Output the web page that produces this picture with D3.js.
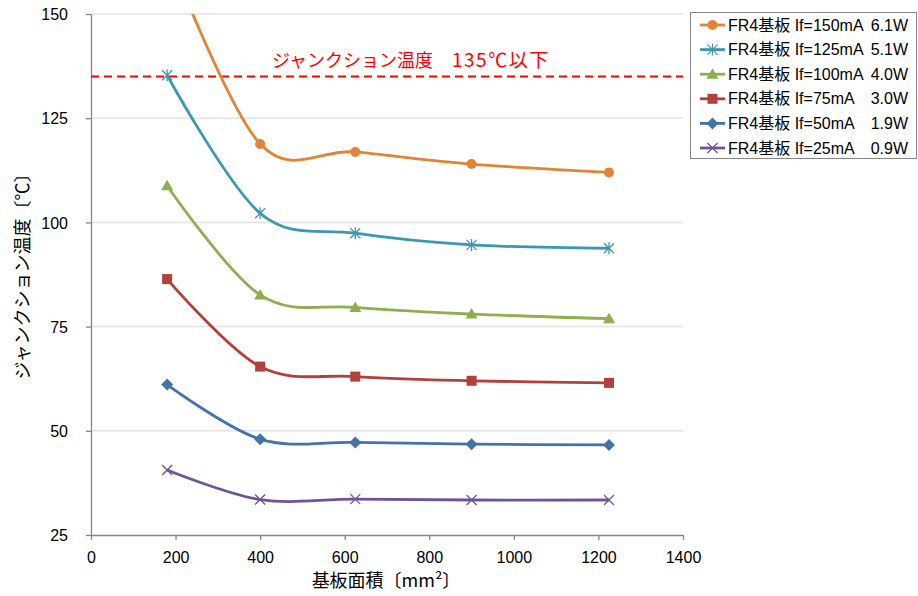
<!DOCTYPE html>
<html><head><meta charset="utf-8">
<script src="https://cdn.jsdelivr.net/npm/d3@7"></script>
<style>
body{margin:0;background:#fff;}
text{font-family:"Liberation Sans","Noto Sans CJK JP",sans-serif;white-space:pre;}
.cjk{font-family:"Noto Sans CJK JP",sans-serif;}
</style></head>
<body><svg id="c" width="918" height="596"></svg>
<script>
const areas = [180, 400, 625, 900, 1225];
const seriesNames = ["FR4基板 If=150mA","FR4基板 If=125mA","FR4基板 If=100mA","FR4基板 If=75mA","FR4基板 If=50mA","FR4基板 If=25mA"];
const seriesPower = ["6.1W","5.1W","4.0W","3.0W","1.9W","0.9W"];
const temp150 = [165.0, 118.8, 116.9, 114.0, 112.0];
const temp125 = [135.3, 102.2, 97.4, 94.6, 93.8];
const temp100 = [108.8, 82.6, 79.6, 78.0, 76.9];
const temp75  = [86.4, 65.4, 63.0, 62.0, 61.5];
const temp50  = [61.1, 48.0, 47.2, 46.8, 46.6];
const temp25  = [40.6, 33.5, 33.6, 33.4, 33.4];
const yTicks = [25, 50, 75, 100, 125, 150];
const xTicks = [0, 200, 400, 600, 800, 1000, 1200, 1400];
const limitValue = 135;
const limitLabelA = "ジャンクション温度";
const limitLabelB = "135℃以下";
const xTitle = "基板面積〔mm²〕";
const yTitle = "ジャンクション温度〔℃〕";

const colors = ["#E08536","#3C98B0","#8FAE4E","#B3403D","#4473AC","#6E5497"];
const markers = ["circle","asterisk","triangle","square","diamond","cross"];
const allSeries = [temp150,temp125,temp100,temp75,temp50,temp25];

const svg = d3.select("#c");
const x = d3.scaleLinear().domain([0,1400]).range([91,683]);
const y = d3.scaleLinear().domain([25,150]).range([535,14]);

// gridlines
svg.append("g").selectAll("line").data(yTicks.filter(d=>d>25)).join("line")
  .attr("x1",x(0)).attr("x2",x(1400)).attr("y1",d=>y(d)).attr("y2",d=>y(d))
  .attr("stroke","#e3e3e3").attr("stroke-width",1.5);

// axes
const xAxis = svg.append("g").attr("transform",`translate(0,${y(25)})`)
  .call(d3.axisBottom(x).tickValues(xTicks).tickSize(5).tickSizeOuter(0).tickFormat(d3.format("d")));
const yAxis = svg.append("g").attr("transform",`translate(${x(0)},0)`)
  .call(d3.axisLeft(y).tickValues(yTicks).tickSize(5).tickSizeOuter(0));
[xAxis,yAxis].forEach(a=>{
  a.select(".domain").attr("stroke","#868686").attr("stroke-width",1.3);
  a.selectAll(".tick line").attr("stroke","#868686").attr("stroke-width",1.3);
  a.selectAll(".tick text").attr("fill","#000").style("font-size","16px")
   .style("font-family","'Liberation Sans','Noto Sans CJK JP',sans-serif");
});
xAxis.selectAll(".tick text").attr("dy","1.25em");
yAxis.selectAll(".tick text").attr("x",-23).attr("dy","0.35em");

// clip
svg.append("clipPath").attr("id","clip").append("rect")
  .attr("x",x(0)).attr("y",y(150)).attr("width",x(1400)-x(0)).attr("height",y(25)-y(150));

// limit line
svg.append("line").attr("x1",x(0)).attr("x2",x(1400)).attr("y1",y(limitValue)).attr("y2",y(limitValue))
  .attr("stroke","#FF0000").attr("stroke-width",2).attr("stroke-dasharray","8,5");
const lt = svg.append("text").attr("x",272).attr("y",y(limitValue)-10).attr("fill","#FF0000")
  .attr("class","cjk").style("font-size","18px");
lt.append("tspan").text(limitLabelA);
lt.append("tspan").attr("x",452).style("letter-spacing","1.5px").style("font-size","19px").text(limitLabelB);

// lines
const line = d3.line().x((d,i)=>x(areas[i])).y(d=>y(d)).curve(d3.curveCardinal.tension(0));
const g = svg.append("g").attr("clip-path","url(#clip)");

function drawMarker(sel, type, color, cx, cy, s){
  if(type==="circle"){
    sel.append("circle").attr("cx",cx).attr("cy",cy).attr("r",s*0.5).attr("fill",color);
  } else if(type==="square"){
    sel.append("rect").attr("x",cx-s/2).attr("y",cy-s/2).attr("width",s).attr("height",s).attr("fill",color);
  } else if(type==="triangle"){
    sel.append("path").attr("d",`M${cx},${cy-s*0.6}L${cx+s*0.6},${cy+s*0.45}L${cx-s*0.6},${cy+s*0.45}Z`).attr("fill",color);
  } else if(type==="diamond"){
    const r=s*0.6;
    sel.append("path").attr("d",`M${cx},${cy-r}L${cx+r},${cy}L${cx},${cy+r}L${cx-r},${cy}Z`).attr("fill",color);
  } else if(type==="cross"){
    const r=s*0.5;
    sel.append("path").attr("d",`M${cx-r},${cy-r}L${cx+r},${cy+r}M${cx-r},${cy+r}L${cx+r},${cy-r}`)
      .attr("stroke",color).attr("stroke-width",1.3).attr("fill","none");
  } else if(type==="asterisk"){
    const r=s*0.5;
    sel.append("path").attr("d",`M${cx-r},${cy-r}L${cx+r},${cy+r}M${cx-r},${cy+r}L${cx+r},${cy-r}M${cx},${cy-r-1}L${cx},${cy+r+1}`)
      .attr("stroke",color).attr("stroke-width",1.3).attr("fill","none");
  }
}

allSeries.forEach((vals,si)=>{
  g.append("path").datum(vals).attr("d",line).attr("fill","none")
    .attr("stroke",colors[si]).attr("stroke-width",2.8);
});
allSeries.forEach((vals,si)=>{
  vals.forEach((v,i)=>{
    if(v<=150) drawMarker(g, markers[si], colors[si], x(areas[i]), y(v), 10);
  });
});

// legend
const lg = svg.append("g");
lg.append("rect").attr("x",690.5).attr("y",12.5).attr("width",226).attr("height",146)
  .attr("fill","#fff").attr("stroke","#868686").attr("stroke-width",1);
seriesNames.forEach((n,i)=>{
  const cy = 25 + i*24.6;
  lg.append("line").attr("x1",700).attr("x2",725).attr("y1",cy).attr("y2",cy)
    .attr("stroke",colors[i]).attr("stroke-width",2.8);
  drawMarker(lg, markers[i], colors[i], 712.5, cy, 10);
  lg.append("text").attr("x",728).attr("y",cy+5.5).style("font-size","16px").text(n);
  lg.append("text").attr("x",908).attr("y",cy+5.5).attr("text-anchor","end").style("font-size","16px").text(seriesPower[i]);
});

// titles
svg.append("text").attr("class","cjk").attr("x",386).attr("y",587).attr("text-anchor","middle").style("font-size","18px").text(xTitle);
svg.append("text").attr("class","cjk").attr("transform","translate(29,272) rotate(-90)").attr("text-anchor","middle")
  .style("font-size","18px").text(yTitle);
</script></body></html>
